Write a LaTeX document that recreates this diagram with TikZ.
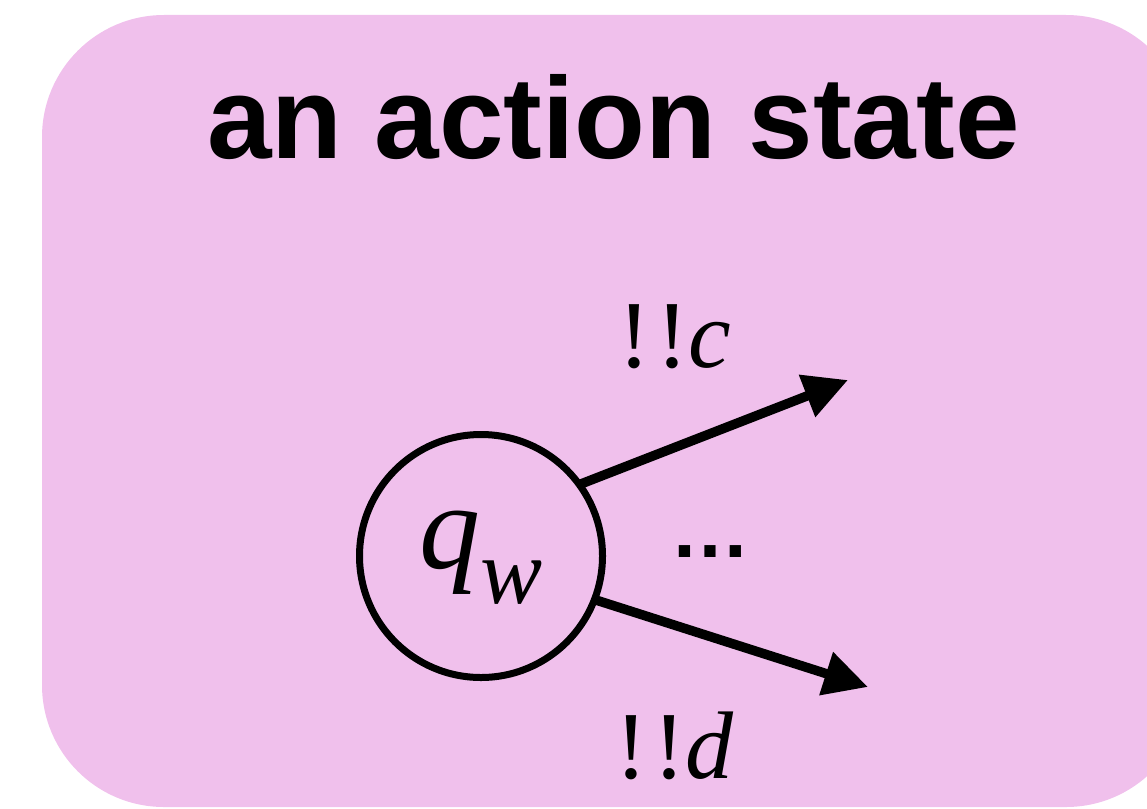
\documentclass[tikz,border=0pt]{standalone}
\usepackage{fontspec}
\setmainfont{Liberation Serif}
\setsansfont{Liberation Sans}
\usetikzlibrary{arrows.meta}
\definecolor{boxpink}{RGB}{240,192,236}
\begin{document}
\begin{tikzpicture}[x=1pt,y=-1pt,
  arrowline/.style={line width=9.5pt,-{Triangle[length=44pt,width=43pt]}},
  lbl/.style={inner sep=0pt,anchor=base west,font=\fontsize{96}{100}\selectfont},
  state/.style={circle,draw,line width=7pt,minimum size=243pt,inner sep=0pt,outer sep=0pt},
  titlefont/.style={font=\sffamily\bfseries\fontsize{116}{120}\selectfont},
  dotsfont/.style={font=\sffamily\bfseries\fontsize{80}{84}\selectfont}]
\useasboundingbox (0,0) rectangle (1147,808);
\begin{scope}
\clip (0,0) rectangle (1147,808);
\fill[boxpink,rounded corners=122pt] (42,15) rectangle (1188,807);
\end{scope}
\node[anchor=base,inner sep=0pt,titlefont] (title) at (613.5,158) {an action state};
\node[state] (qw) at (481,556) {};
\node[anchor=base,inner sep=0pt] (qwtext) at (481,568) {\fontsize{122}{126}\selectfont\itshape q\raisebox{-35pt}{\fontsize{93}{96}\selectfont w}};
\coordinate (tc) at (848,380);
\coordinate (td) at (868,687);
\draw[arrowline] (qw.36) -- (tc);
\draw[arrowline] (qw.-21) -- (td);
\node[lbl] (lc) at (618,367) {!\kern0.07em!\textit{c}};
\node[lbl] (ld) at (615,778) {!\kern0.07em!\textit{d}};
\node[anchor=base,inner sep=0pt,dotsfont] (dots) at (710.5,557) {…};
\end{tikzpicture}
\end{document}
